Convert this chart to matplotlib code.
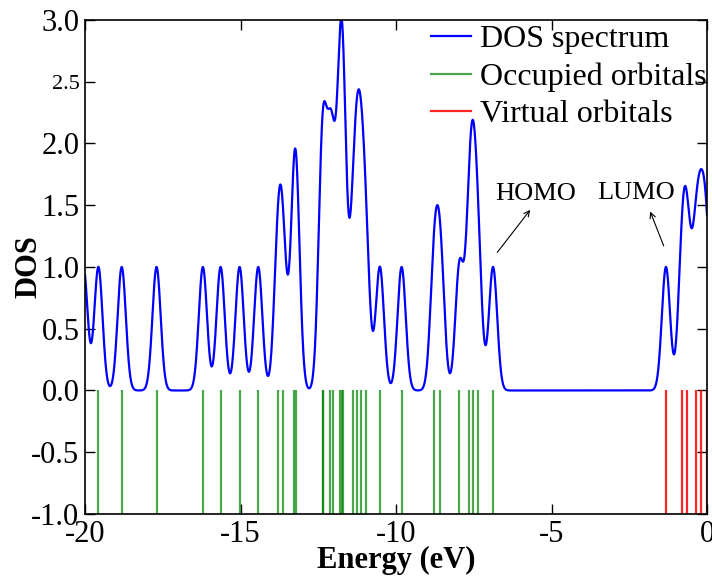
import numpy as np
import matplotlib
matplotlib.use("Agg")
import matplotlib.pyplot as plt
from matplotlib.lines import Line2D

plt.rcParams['font.family'] = ['Liberation Serif', 'DejaVu Serif']
plt.rcParams['axes.unicode_minus'] = False

# Orbital energies (eV)
occupied = [-20.05, -19.57, -18.82, -17.70, -16.21, -15.64, -15.03, -14.43,
            -13.80, -13.64, -13.27, -13.21, -12.36, -12.36, -12.12, -12.04,
            -11.79, -11.75, -11.70, -11.38, -11.24, -11.13, -10.97, -10.52,
            -9.82, -8.77, -8.57, -7.96, -7.64, -7.53, -7.37, -6.88]
virtual = [-1.32, -0.80, -0.63, -0.36, -0.18, 0.0]

SIGMA = 0.132  # gaussian broadening (eV)

# DOS spectrum = gaussian broadened levels
energy = np.linspace(-20, 0, 4001)
levels = np.array(occupied + virtual)
dos = np.exp(-(energy[:, None] - levels[None, :]) ** 2 / (2 * SIGMA ** 2)).sum(axis=1)

fig = plt.figure(figsize=(7.12, 5.79), dpi=100)
ax = fig.add_axes([0.1194, 0.1123, 0.8736, 0.8532])

ax.plot(energy, dos, color='blue', lw=1.6)
ax.vlines(occupied, -1, 0, color='green', lw=1.6, alpha=0.7)
ax.vlines(virtual, -1, 0, color='red', lw=1.6, alpha=0.85)

ax.set_xlim(-20, 0)
ax.set_ylim(-1, 3)
ax.set_xticks([-20, -15, -10, -5, 0])
ax.set_yticks([-1.0, -0.5, 0.0, 0.5, 1.0, 1.5, 2.0, 2.5, 3.0])
ax.set_yticklabels(['-1.0', '-0.5', '0.0', '0.5', '1.0', '1.5', '2.0', '2.5', '3.0'])
ax.tick_params(direction='in', length=7, width=1, top=True, right=True,
               labelsize=22, pad=4)
for lab in ax.get_yticklabels():
    if lab.get_text() == '2.5':
        lab.set_fontsize(16)
for s in ax.spines.values():
    s.set_linewidth(1.2)

ax.set_xlabel('Energy (eV)', fontsize=22, fontweight='bold', labelpad=-2)
ax.set_ylabel('DOS', fontsize=22, fontweight='bold', labelpad=-9)

handles = [Line2D([], [], color='blue', lw=1.6),
           Line2D([], [], color='green', lw=1.6, alpha=0.7),
           Line2D([], [], color='red', lw=1.6, alpha=0.85)]
ax.legend(handles, ['DOS spectrum', 'Occupied orbitals', 'Virtual orbitals'],
          loc='upper right', bbox_to_anchor=(1.0, 0.99), frameon=False,
          fontsize=23, handlelength=1.25, handletextpad=0.3,
          labelspacing=0.25, borderaxespad=0, borderpad=0)

# HOMO / LUMO labels
ax.text(-5.50, 1.59, 'HOMO', fontsize=19, ha='center', va='center')
ax.text(-2.28, 1.60, 'LUMO', fontsize=19, ha='center', va='center')
ax.annotate('', xy=(-5.63, 1.48), xytext=(-6.80, 1.10),
            arrowprops=dict(arrowstyle='->', color='black', lw=0.8))
ax.annotate('', xy=(-1.86, 1.47), xytext=(-1.36, 1.15),
            arrowprops=dict(arrowstyle='->', color='black', lw=0.8))

fig.savefig('out.png', dpi=100)
